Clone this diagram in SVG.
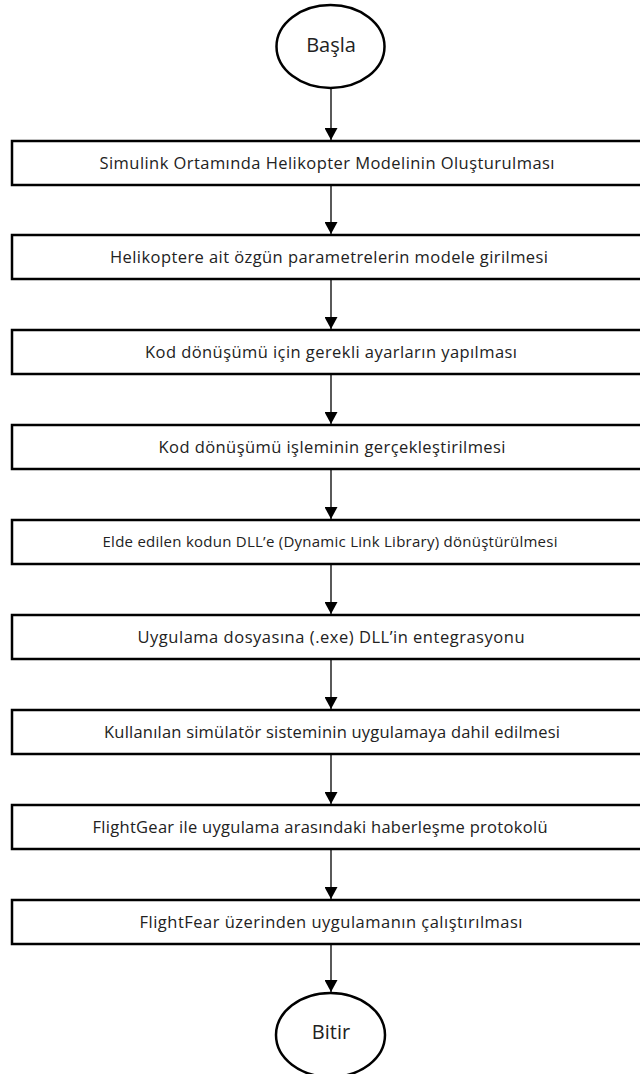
<svg xmlns="http://www.w3.org/2000/svg" width="640" height="1074" viewBox="0 0 640 1074">
<style>
.box{fill:#fff;stroke:#000;stroke-width:2.5}
.term{fill:#fff;stroke:#000;stroke-width:2.5}
.lbl{font-family:"Open Sans","Liberation Sans",sans-serif;font-size:16.5px;fill:#222;text-anchor:middle}
.sm{font-size:15px}
.tlbl{font-family:"Open Sans","Liberation Sans",sans-serif;font-size:20px;fill:#222;text-anchor:middle}
.conn{stroke:#000;stroke-width:1.3;fill:none;marker-end:url(#ah)}
</style>
<defs>
<marker id="ah" markerUnits="userSpaceOnUse" markerWidth="13" markerHeight="13" refX="12" refY="6.5" orient="auto">
<path d="M0,0 L12,6.5 L0,13 Z" fill="#000"/>
</marker>
</defs>
<rect width="640" height="1074" fill="#fff"/>
<g id="connectors">
<line class="conn" x1="331" y1="88" x2="331" y2="140"/>
<line class="conn" x1="331" y1="185" x2="331" y2="234"/>
<line class="conn" x1="331" y1="279" x2="331" y2="329"/>
<line class="conn" x1="331" y1="374" x2="331" y2="424"/>
<line class="conn" x1="331" y1="469" x2="331" y2="519"/>
<line class="conn" x1="331" y1="564" x2="331" y2="614"/>
<line class="conn" x1="331" y1="659" x2="331" y2="709"/>
<line class="conn" x1="331" y1="754" x2="331" y2="804"/>
<line class="conn" x1="331" y1="849" x2="331" y2="899"/>
<line class="conn" x1="331" y1="944" x2="331" y2="992"/>
</g>
<g id="start">
<ellipse class="term" cx="330.5" cy="46.5" rx="54" ry="41.5"/>
<text class="tlbl" x="331" y="52">Başla</text>
</g>
<g id="step1">
<rect class="box" x="12" y="141" width="640" height="44"/>
<text class="lbl" x="327" y="169" textLength="455">Simulink  Ortamında  Helikopter  Modelinin  Oluşturulması</text>
</g>
<g id="step2">
<rect class="box" x="12" y="235" width="640" height="44"/>
<text class="lbl" x="329" y="263" textLength="438">Helikoptere  ait özgün parametrelerin  modele  girilmesi</text>
</g>
<g id="step3">
<rect class="box" x="12" y="330" width="640" height="44"/>
<text class="lbl" x="331" y="358" textLength="372">Kod dönüşümü  için gerekli ayarların yapılması</text>
</g>
<g id="step4">
<rect class="box" x="12" y="425" width="640" height="44"/>
<text class="lbl" x="332" y="453" textLength="347">Kod dönüşümü  işleminin gerçekleştirilmesi</text>
</g>
<g id="step5">
<rect class="box" x="12" y="520" width="640" height="44"/>
<text class="lbl sm" x="330" y="547" textLength="455">Elde edilen  kodun  DLL’e (Dynamic  Link  Library) dönüştürülmesi</text>
</g>
<g id="step6">
<rect class="box" x="12" y="615" width="640" height="44"/>
<text class="lbl" x="331" y="643" textLength="387">Uygulama  dosyasına  (.exe) DLL’in entegrasyonu</text>
</g>
<g id="step7">
<rect class="box" x="12" y="710" width="640" height="44"/>
<text class="lbl" x="332" y="738" textLength="456">Kullanılan  simülatör sisteminin uygulamaya  dahil edilmesi</text>
</g>
<g id="step8">
<rect class="box" x="12" y="805" width="640" height="44"/>
<text class="lbl" x="320" y="833" textLength="455">FlightGear ile uygulama  arasındaki haberleşme  protokolü</text>
</g>
<g id="step9">
<rect class="box" x="12" y="900" width="640" height="44"/>
<text class="lbl" x="331" y="928" textLength="383">FlightFear  üzerinden  uygulamanın  çalıştırılması</text>
</g>
<g id="end">
<ellipse class="term" cx="330.5" cy="1035" rx="54.5" ry="42"/>
<text class="tlbl" x="331" y="1039">Bitir</text>
</g>
</svg>
